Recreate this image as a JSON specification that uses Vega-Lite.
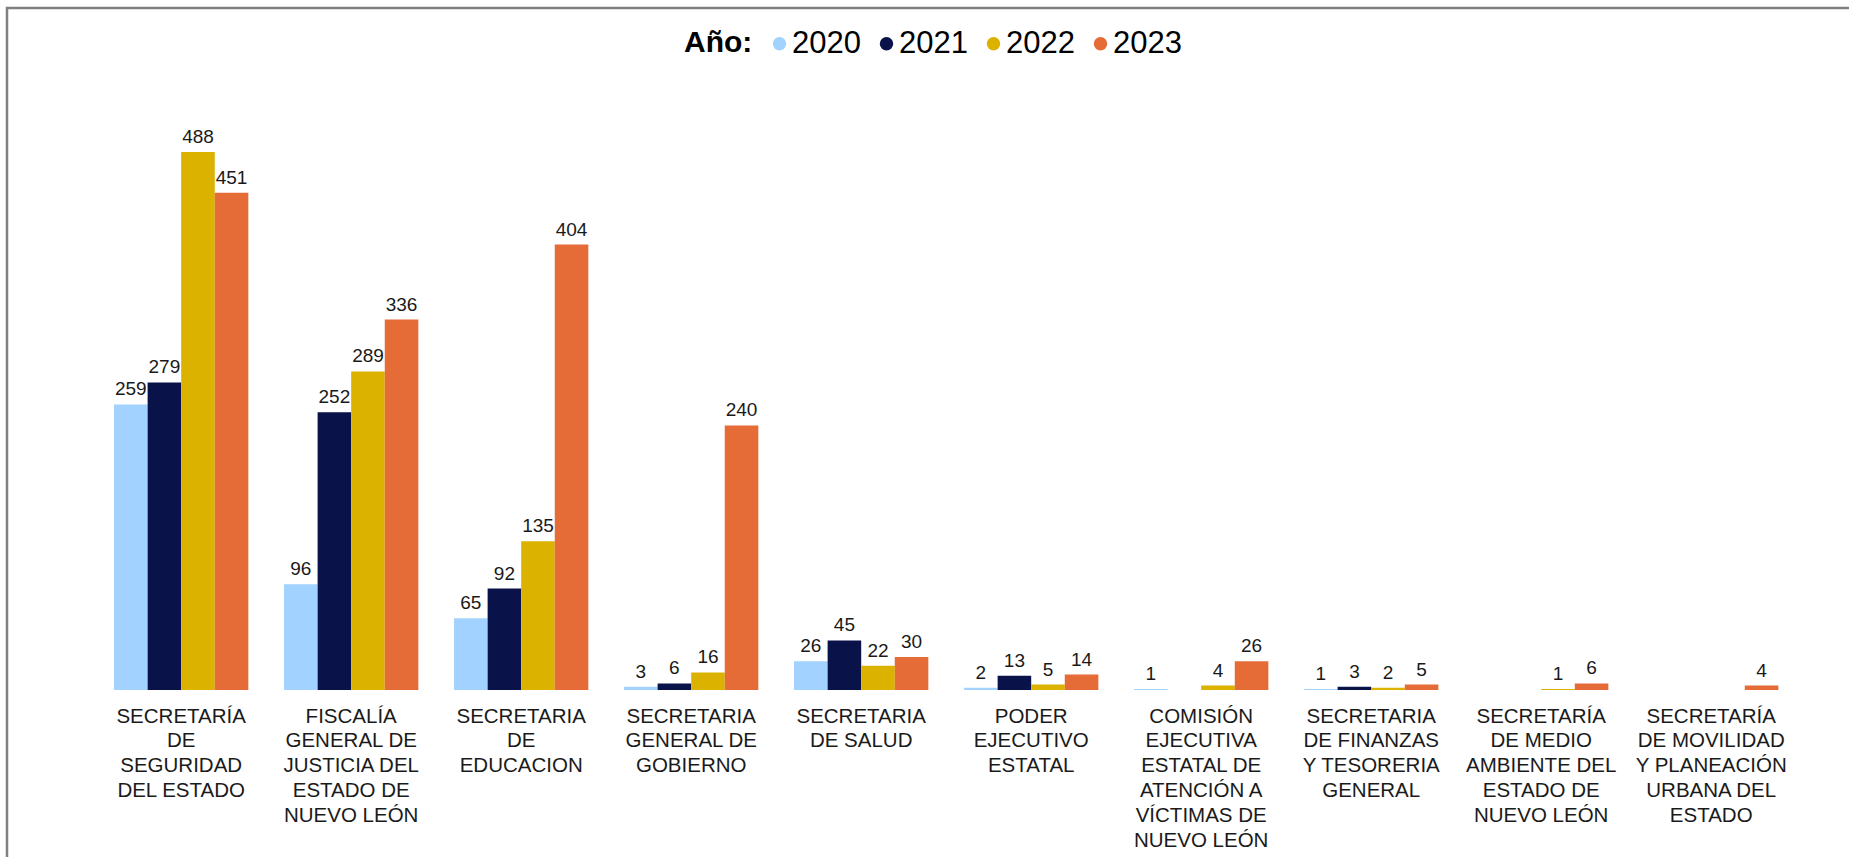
{
  "$schema": "https://vega.github.io/schema/vega-lite/v6.json",
  "width": 1860,
  "height": 870,
  "autosize": "none",
  "padding": {"left": 7, "top": 8, "right": 0, "bottom": 0},
  "background": "white",
  "config": {
    "view": {"stroke": "#808080", "strokeWidth": 2.5},
    "font": "Liberation Sans"
  },
  "data": {
    "values": [
      {"dep": "SECRETARÍA|DE|SEGURIDAD|DEL ESTADO", "year": "2020", "v": 259},
      {"dep": "SECRETARÍA|DE|SEGURIDAD|DEL ESTADO", "year": "2021", "v": 279},
      {"dep": "SECRETARÍA|DE|SEGURIDAD|DEL ESTADO", "year": "2022", "v": 488},
      {"dep": "SECRETARÍA|DE|SEGURIDAD|DEL ESTADO", "year": "2023", "v": 451},
      {"dep": "FISCALÍA|GENERAL DE|JUSTICIA DEL|ESTADO DE|NUEVO LEÓN", "year": "2020", "v": 96},
      {"dep": "FISCALÍA|GENERAL DE|JUSTICIA DEL|ESTADO DE|NUEVO LEÓN", "year": "2021", "v": 252},
      {"dep": "FISCALÍA|GENERAL DE|JUSTICIA DEL|ESTADO DE|NUEVO LEÓN", "year": "2022", "v": 289},
      {"dep": "FISCALÍA|GENERAL DE|JUSTICIA DEL|ESTADO DE|NUEVO LEÓN", "year": "2023", "v": 336},
      {"dep": "SECRETARIA|DE|EDUCACION", "year": "2020", "v": 65},
      {"dep": "SECRETARIA|DE|EDUCACION", "year": "2021", "v": 92},
      {"dep": "SECRETARIA|DE|EDUCACION", "year": "2022", "v": 135},
      {"dep": "SECRETARIA|DE|EDUCACION", "year": "2023", "v": 404},
      {"dep": "SECRETARIA|GENERAL DE|GOBIERNO", "year": "2020", "v": 3},
      {"dep": "SECRETARIA|GENERAL DE|GOBIERNO", "year": "2021", "v": 6},
      {"dep": "SECRETARIA|GENERAL DE|GOBIERNO", "year": "2022", "v": 16},
      {"dep": "SECRETARIA|GENERAL DE|GOBIERNO", "year": "2023", "v": 240},
      {"dep": "SECRETARIA|DE SALUD", "year": "2020", "v": 26},
      {"dep": "SECRETARIA|DE SALUD", "year": "2021", "v": 45},
      {"dep": "SECRETARIA|DE SALUD", "year": "2022", "v": 22},
      {"dep": "SECRETARIA|DE SALUD", "year": "2023", "v": 30},
      {"dep": "PODER|EJECUTIVO|ESTATAL", "year": "2020", "v": 2},
      {"dep": "PODER|EJECUTIVO|ESTATAL", "year": "2021", "v": 13},
      {"dep": "PODER|EJECUTIVO|ESTATAL", "year": "2022", "v": 5},
      {"dep": "PODER|EJECUTIVO|ESTATAL", "year": "2023", "v": 14},
      {"dep": "COMISIÓN|EJECUTIVA|ESTATAL DE|ATENCIÓN A|VÍCTIMAS DE|NUEVO LEÓN", "year": "2020", "v": 1},
      {"dep": "COMISIÓN|EJECUTIVA|ESTATAL DE|ATENCIÓN A|VÍCTIMAS DE|NUEVO LEÓN", "year": "2022", "v": 4},
      {"dep": "COMISIÓN|EJECUTIVA|ESTATAL DE|ATENCIÓN A|VÍCTIMAS DE|NUEVO LEÓN", "year": "2023", "v": 26},
      {"dep": "SECRETARIA|DE FINANZAS|Y TESORERIA|GENERAL", "year": "2020", "v": 1},
      {"dep": "SECRETARIA|DE FINANZAS|Y TESORERIA|GENERAL", "year": "2021", "v": 3},
      {"dep": "SECRETARIA|DE FINANZAS|Y TESORERIA|GENERAL", "year": "2022", "v": 2},
      {"dep": "SECRETARIA|DE FINANZAS|Y TESORERIA|GENERAL", "year": "2023", "v": 5},
      {"dep": "SECRETARÍA|DE MEDIO|AMBIENTE DEL|ESTADO DE|NUEVO LEÓN", "year": "2022", "v": 1},
      {"dep": "SECRETARÍA|DE MEDIO|AMBIENTE DEL|ESTADO DE|NUEVO LEÓN", "year": "2023", "v": 6},
      {"dep": "SECRETARÍA|DE MOVILIDAD|Y PLANEACIÓN|URBANA DEL|ESTADO", "year": "2023", "v": 4}
    ]
  },
  "encoding": {
    "x": {
      "field": "dep",
      "type": "nominal",
      "sort": null,
      "title": null,
      "scale": {"paddingInner": 0.21, "paddingOuter": 0.5755, "align": 0.547},
      "axis": {
        "orient": "bottom",
        "offset": -188,
        "domain": false,
        "ticks": false,
        "labelAngle": 0,
        "labelExpr": "split(datum.value, '|')",
        "labelFontSize": 20.5,
        "labelLineHeight": 24.8,
        "labelColor": "#1a1a1a",
        "labelPadding": 16,
        "labelLimit": 0,
        "labelOverlap": false,
        "labelBaseline": "top"
      }
    },
    "xOffset": {"field": "year", "type": "nominal", "scale": {"domain": ["2020", "2021", "2022", "2023"]}},
    "y": {
      "field": "v",
      "type": "quantitative",
      "scale": {"domain": [-170.5, 618.6], "nice": false, "zero": false},
      "axis": null
    }
  },
  "layer": [
    {
      "mark": {"type": "bar"},
      "encoding": {
        "color": {
          "field": "year",
          "type": "nominal",
          "scale": {"domain": ["2020", "2021", "2022", "2023"], "range": ["#A2D2FF", "#0A124A", "#DBB200", "#E56B37"]},
          "legend": {
            "title": "Año:",
            "orient": "none",
            "legendX": 677,
            "legendY": 20,
            "direction": "horizontal",
            "titleOrient": "left",
            "titleFontSize": 30,
            "titleFontWeight": "bold",
            "titleColor": "#000000",
            "titlePadding": 11,
            "titleBaseline": "middle",
            "labelFontSize": 31,
            "labelColor": "#000000",
            "labelOffset": -3,
            "columnPadding": 10,
            "symbolType": "circle",
            "symbolSize": 180,
            "symbolStrokeWidth": 0
          }
        }
      }
    },
    {
      "mark": {"type": "text", "dy": -9, "baseline": "alphabetic", "fontSize": 19, "color": "#1a1a1a"},
      "encoding": {"text": {"field": "v", "type": "quantitative"}}
    }
  ]
}
